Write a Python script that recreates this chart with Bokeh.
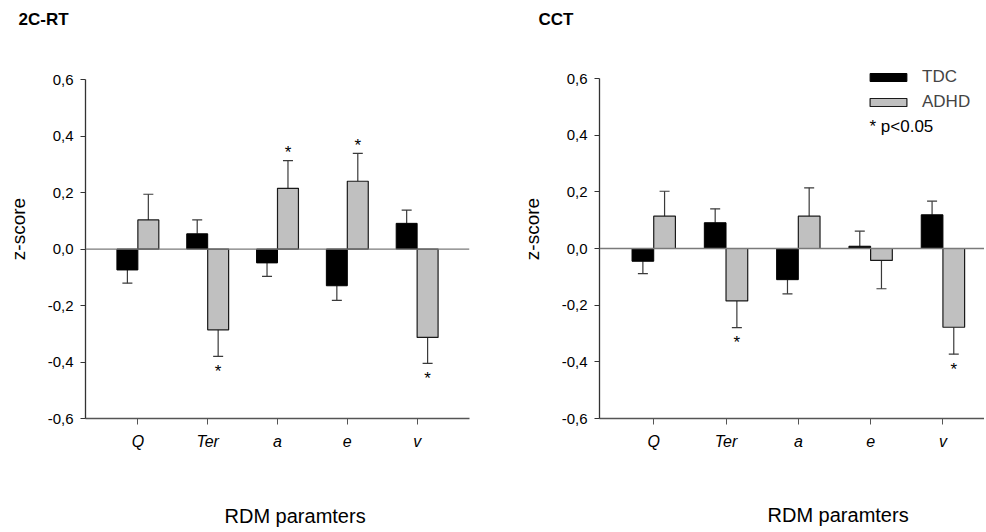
from bokeh.plotting import figure
from bokeh.models import (ColumnDataSource, FixedTicker, CustomJSTickFormatter, Span,
                          Label, Legend, Range1d, Title)
from bokeh.core.properties import value
from bokeh.layouts import row
from bokeh.embed import file_html
from bokeh.resources import INLINE

# ---------------- data ----------------
categories = ["Q", "Ter", "a", "e", "v"]
y_ticks = [-0.6, -0.4, -0.2, 0.0, 0.2, 0.4, 0.6]
panel_titles = ["2C-RT", "CCT"]
x_title = "RDM paramters"
y_title = "z-score"
groups = ["TDC", "ADHD"]
sig_note = "* p<0.05"

rt_tdc = [-0.074, 0.054, -0.049, -0.130, 0.091]
rt_tdc_err = [0.047, 0.049, 0.048, 0.052, 0.047]
rt_adhd = [0.103, -0.286, 0.215, 0.240, -0.313]
rt_adhd_err = [0.091, 0.094, 0.098, 0.099, 0.092]
rt_adhd_sig = [False, True, True, True, True]

cct_tdc = [-0.045, 0.091, -0.110, 0.008, 0.119]
cct_tdc_err = [0.044, 0.049, 0.050, 0.053, 0.048]
cct_adhd = [0.114, -0.185, 0.114, -0.042, -0.278]
cct_adhd_err = [0.088, 0.094, 0.100, 0.100, 0.095]
cct_adhd_sig = [False, True, False, False, True]

FONT = "Liberation Sans"
BAR_W = 0.3


def make_panel(title, tdc, tdc_err, adhd, adhd_err, adhd_sig, width, height,
               mb_left, mb_right, mb_top, mb_bottom, x_end, y_end,
               title_offset, xt_offset, spacer):
    pos = list(range(1, len(categories) + 1))
    p = figure(width=width, height=height, output_backend="svg", toolbar_location=None,
               x_range=Range1d(0.25, x_end), y_range=Range1d(-0.6, y_end),
               min_border_left=mb_left, min_border_right=mb_right,
               min_border_top=mb_top, min_border_bottom=mb_bottom)
    p.outline_line_color = None
    p.xgrid.visible = False
    p.ygrid.visible = False
    p.background_fill_color = "white"
    p.border_fill_color = "white"

    # panel title
    p.title.text = title
    p.title.align = "left"
    p.title.vertical_align = "top"
    p.title.offset = title_offset
    p.title.standoff = 17
    p.title.text_font = FONT
    p.title.text_font_style = "bold"
    p.title.text_font_size = "17px"
    p.title.text_color = "black"

    # spacer between the x axis and its title
    p.add_layout(Title(text=" ", text_font_size="1px", standoff=spacer), "below")
    # x-axis title
    p.add_layout(Title(text=x_title, align="left", vertical_align="bottom",
                       offset=xt_offset, standoff=0,
                       text_font=FONT, text_font_style="normal", text_font_size="20px",
                       text_color="black"), "below")

    # zero line
    p.add_layout(Span(location=0, dimension="width", line_color="#7a7a7a", line_width=1.3))

    def series(vals, errs, offset, sig):
        xs = [c + offset for c in pos]
        ends = [v + e if v >= 0 else v - e for v, e in zip(vals, errs)]
        return dict(x=xs, top=vals, end=ends,
                    soff=[-8 if v >= 0 else 15 for v in vals],
                    sig=sig)

    d_t = series(tdc, tdc_err, -BAR_W / 2, [False] * len(tdc))
    d_a = series(adhd, adhd_err, BAR_W / 2, adhd_sig)
    src_t = ColumnDataSource(d_t)
    src_a = ColumnDataSource(d_a)

    # error bars (one-sided)
    for src in (src_t, src_a):
        p.segment(x0="x", y0="top", x1="x", y1="end", source=src,
                  line_color="#3a3a3a", line_width=1.2)
        p.scatter(x="x", y="end", marker="dash", size=10, source=src,
                  line_color="#3a3a3a", line_width=1.2)

    r_t = p.vbar(x="x", top="top", bottom=0, width=BAR_W, source=src_t,
                 fill_color="black", line_color="black", line_width=1)
    r_a = p.vbar(x="x", top="top", bottom=0, width=BAR_W, source=src_a,
                 fill_color="#c0c0c0", line_color="#1a1a1a", line_width=1.2)

    # significance stars
    star = {k: [v for v, s in zip(d_a[k], d_a["sig"]) if s] for k in ("x", "end", "soff")}
    star["t"] = ["*"] * len(star["x"])
    p.text(x="x", y="end", text="t", y_offset="soff", source=ColumnDataSource(star),
           text_align="center", text_baseline="middle", text_font_size="17px",
           text_font=value(FONT), text_color="black")

    # axes
    xa = p.xaxis[0]
    xa.ticker = FixedTicker(ticks=pos)
    xa.major_label_overrides = {c: lab for c, lab in zip(pos, categories)}
    xa.major_label_text_font = FONT
    xa.major_label_text_font_style = "italic"
    xa.major_label_text_font_size = "16px"
    xa.major_label_text_color = "black"
    xa.major_label_standoff = 8
    xa.major_tick_in = 0
    xa.major_tick_out = 6
    xa.minor_tick_line_color = None
    xa.axis_line_color = "#555555"
    xa.major_tick_line_color = "#555555"
    xa.axis_line_width = 1.3

    ya = p.yaxis[0]
    ya.bounds = (-0.6, 0.6)
    ya.ticker = FixedTicker(ticks=y_ticks)
    ya.formatter = CustomJSTickFormatter(code="return tick.toFixed(1).replace('.', ',');")
    ya.major_label_text_font = FONT
    ya.major_label_text_font_size = "15px"
    ya.major_label_text_color = "black"
    ya.major_label_standoff = 7
    ya.major_tick_in = 0
    ya.major_tick_out = 5
    ya.minor_tick_line_color = None
    ya.axis_line_color = "#333333"
    ya.major_tick_line_color = "#333333"
    ya.axis_line_width = 1.3
    ya.axis_label = y_title
    ya.axis_label_text_font = FONT
    ya.axis_label_text_font_style = "normal"
    ya.axis_label_text_font_size = "19px"
    ya.axis_label_text_color = "black"
    ya.axis_label_standoff = 16

    return p, r_t, r_a


W1, W2, H = 490, 494, 531

p1, _, _ = make_panel(panel_titles[0], rt_tdc, rt_tdc_err, rt_adhd, rt_adhd_err, rt_adhd_sig,
                      W1, H, 85, 21, 39, 113, 5.75, 0.6 + 40 / 281.7, -67, 139, 47)
p2, t2, a2 = make_panel(panel_titles[1], cct_tdc, cct_tdc_err, cct_adhd, cct_adhd_err,
                        cct_adhd_sig, W2, H, 109, 0, 39, 112, 0.25 + 385 / 72.3,
                        0.6 + 39 / 283.3, -61, 168, 46)

legend = Legend(items=[(groups[0], [t2]), (groups[1], [a2])], location=(266, 306),
                orientation="vertical", glyph_width=46, glyph_height=10, label_standoff=11,
                spacing=5, padding=0, margin=0, border_line_alpha=0,
                background_fill_alpha=0, label_text_font=FONT, label_text_font_size="17px",
                label_height=20)
p2.add_layout(legend)
p2.add_layout(Label(x=270, y=292, x_units="screen", y_units="screen", text=sig_note,
                    text_font=FONT, text_font_size="17px", text_baseline="middle",
                    text_color="black"))

layout = row(p1, p2)
open("out.html", "w").write(file_html(layout, INLINE))
